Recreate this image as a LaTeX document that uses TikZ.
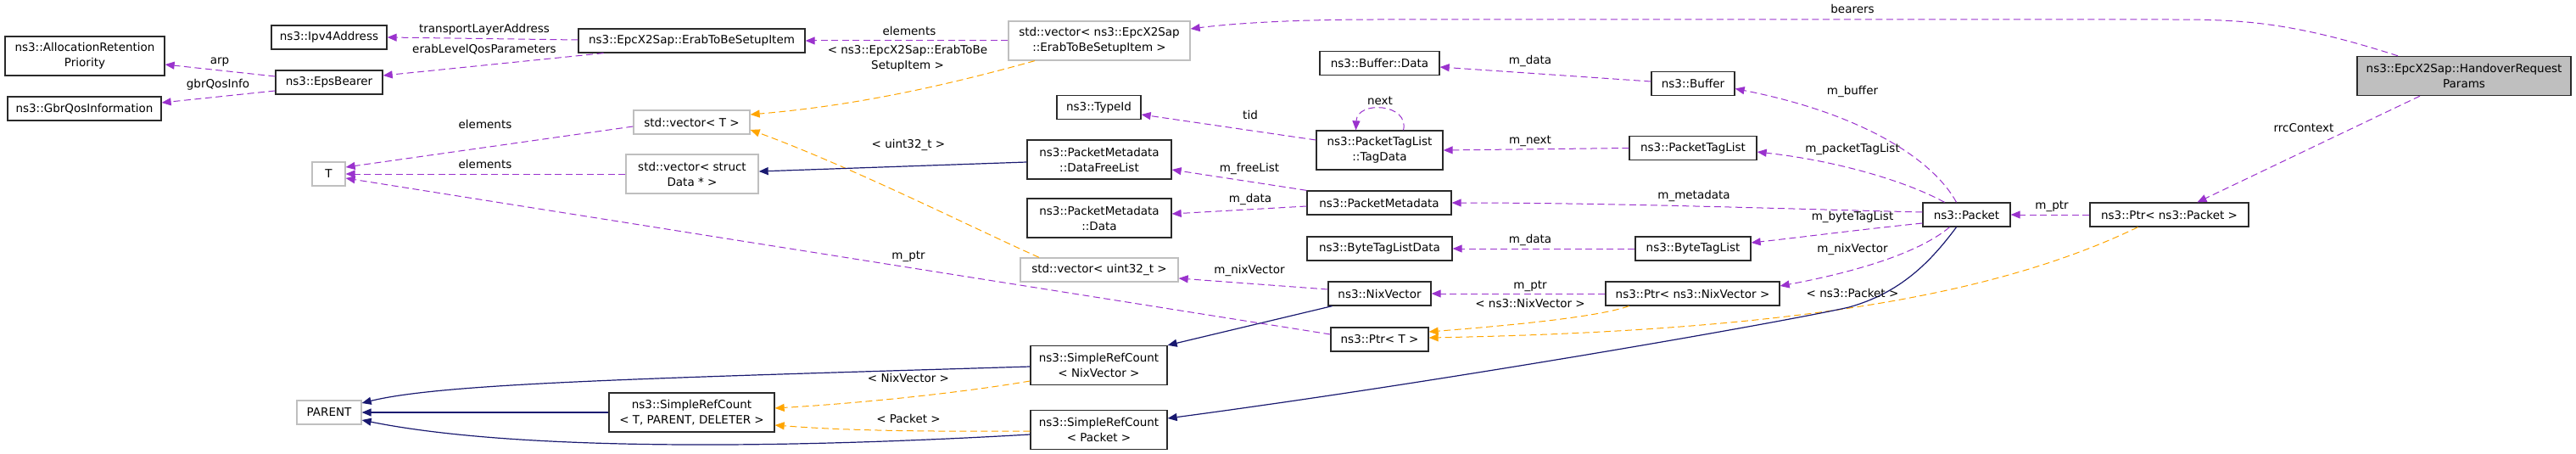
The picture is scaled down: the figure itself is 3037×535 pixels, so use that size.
\documentclass[tikz,border=0pt]{standalone}
\usepackage{fontspec}
\setmainfont{DejaVu Sans}
\usetikzlibrary{arrows.meta}
\definecolor{purp}{HTML}{9A32CD}
\definecolor{orng}{HTML}{FFA500}
\definecolor{navyb}{HTML}{191970}
\definecolor{gborder}{HTML}{BFBFBF}
\definecolor{nborder}{HTML}{2A2A2A}
\definecolor{mainfill}{HTML}{BFBFBF}
\newcommand\dgfont{\fontsize{13.5}{18}\selectfont}
\tikzset{
  cls/.style={draw=nborder, fill=white, line width=1.3pt, inner sep=0pt, align=center, font=\dgfont},
  ext/.style={cls, draw=gborder},
  mainnode/.style={cls, fill=mainfill},
  lbl/.style={inner sep=0pt, font=\dgfont, text height=10pt, text depth=3pt},
  lbltwo/.style={inner sep=0pt, font=\dgfont, align=center},
  mem/.style={draw=purp, line width=1pt, dash pattern=on 8pt off 4.5pt, -{Triangle[length=11pt,width=9pt]}},
  tmpl/.style={draw=orng, line width=1pt, dash pattern=on 8pt off 4.5pt, -{Triangle[length=11pt,width=9pt]}},
  inh/.style={draw=navyb, line width=1.2pt, -{Triangle[length=11pt,width=9pt]}},
}
\begin{document}
\begin{tikzpicture}[x=1pt,y=-1pt]
\useasboundingbox (0,0) rectangle (3037,535);
% nodes
\node[cls, minimum width=188pt, minimum height=46pt] (arp) at (100,66) {ns3::AllocationRetention\\Priority};
\node[cls, minimum width=181pt, minimum height=28pt] (gbr) at (99.5,128) {ns3::GbrQosInformation};
\node[cls, minimum width=136pt, minimum height=28pt] (ipv4) at (388,44) {ns3::Ipv4Address};
\node[cls, minimum width=126pt, minimum height=28pt] (eps) at (388,97) {ns3::EpsBearer};
\node[cls, minimum width=267pt, minimum height=28pt] (erab) at (815.5,48) {ns3::EpcX2Sap::ErabToBeSetupItem};
\node[ext, minimum width=214pt, minimum height=46pt] (verab) at (1296,48) {std::vector< ns3::EpcX2Sap\\::ErabToBeSetupItem >};
\node[ext, minimum width=39pt, minimum height=28pt] (T) at (387.5,205) {T};
\node[ext, minimum width=137pt, minimum height=28pt] (vecT) at (815.5,144) {std::vector< T >};
\node[ext, minimum width=156pt, minimum height=46pt] (vecData) at (816,205) {std::vector< struct\\Data * >};
\node[cls, minimum width=99pt, minimum height=28pt] (typeid) at (1295.5,126.5) {ns3::TypeId};
\node[cls, minimum width=170pt, minimum height=46pt] (freelist) at (1296,188) {ns3::PacketMetadata\\::DataFreeList};
\node[cls, minimum width=170pt, minimum height=46pt] (pmdata) at (1296,257) {ns3::PacketMetadata\\::Data};
\node[ext, minimum width=186pt, minimum height=28pt] (vecu32) at (1296,318) {std::vector< uint32\_t >};
\node[cls, minimum width=161pt, minimum height=46pt] (srcnix) at (1295.5,430.5) {ns3::SimpleRefCount\\< NixVector >};
\node[cls, minimum width=195pt, minimum height=46pt] (srctpd) at (815.5,486) {ns3::SimpleRefCount\\< T, PARENT, DELETER >};
\node[cls, minimum width=161pt, minimum height=46pt] (srcpkt) at (1295.5,506.5) {ns3::SimpleRefCount\\< Packet >};
\node[ext, minimum width=76pt, minimum height=28pt] (PARENT) at (388,486) {PARENT};
\node[cls, minimum width=141pt, minimum height=28pt] (bufdata) at (1626.5,74.5) {ns3::Buffer::Data};
\node[cls, minimum width=149pt, minimum height=46pt] (tagdata) at (1626.5,177) {ns3::PacketTagList\\::TagData};
\node[cls, minimum width=170pt, minimum height=28pt] (pmeta) at (1626,239) {ns3::PacketMetadata};
\node[cls, minimum width=171pt, minimum height=28pt] (btldata) at (1626.5,293) {ns3::ByteTagListData};
\node[cls, minimum width=121pt, minimum height=28pt] (nix) at (1626.5,346) {ns3::NixVector};
\node[cls, minimum width=115pt, minimum height=28pt] (ptrT) at (1626.5,400) {ns3::Ptr< T >};
\node[cls, minimum width=98pt, minimum height=28pt] (buffer) at (1996,98.5) {ns3::Buffer};
\node[cls, minimum width=150pt, minimum height=28pt] (ptl) at (1996,174.5) {ns3::PacketTagList};
\node[cls, minimum width=136pt, minimum height=28pt] (btl) at (1996,293) {ns3::ByteTagList};
\node[cls, minimum width=205pt, minimum height=28pt] (ptrnix) at (1995.5,346) {ns3::Ptr< ns3::NixVector >};
\node[cls, minimum width=103pt, minimum height=28pt] (packet) at (2318.5,253) {ns3::Packet};
\node[cls, minimum width=187pt, minimum height=28pt] (ptrpkt) at (2557.5,253) {ns3::Ptr< ns3::Packet >};
\node[mainnode, minimum width=252pt, minimum height=46pt] (hrp) at (2905,89.5) {ns3::EpcX2Sap::HandoverRequest\\Params};
% edges
\draw[mem] ([xshift=-78pt]hrp.north) .. controls (2700,25) and (2640,23) .. (2560,23) -- (1620,23) .. controls (1520,23) and (1450,28) .. ([yshift=14pt]verab.east);
\draw[mem] ([xshift=-52pt]hrp.south) -- ([xshift=33pt]ptrpkt.north);
\draw[mem] (ptrpkt.west) -- (packet.east);
\draw[mem] ([xshift=-12pt]packet.north) .. controls (2280,190) and (2200,135) .. ([yshift=-6pt]buffer.east);
\draw[mem] ([xshift=-26pt]packet.north) .. controls (2250,215) and (2170,190) .. ([yshift=-4.5pt]ptl.east);
\draw[mem] ([yshift=3pt]packet.west) .. controls (2100,246) and (1900,239) .. (pmeta.east);
\draw[mem] ([yshift=-10pt]packet.west) .. controls (2180,272) and (2120,280) .. ([yshift=7pt]btl.east);
\draw[mem] ([xshift=-20pt]packet.south) .. controls (2260,300) and (2180,322) .. ([yshift=9pt]ptrnix.east);
\draw[mem] (ptrnix.west) -- (nix.east);
\draw[tmpl] ([xshift=-75pt]ptrnix.south) .. controls (1880,375) and (1760,385) .. ([yshift=9pt]ptrT.east);
\draw[tmpl] ([xshift=-37pt]ptrpkt.south) .. controls (2350,350) and (2100,390) .. ([yshift=2pt]ptrT.east);
\draw[inh] ([xshift=-12pt]packet.south) .. controls (2275,310) and (2240,345) .. (2180,362) .. controls (2100,380) and (1700,450) .. ([yshift=13.5pt]srcpkt.east);
\draw[inh] ([xshift=-56pt]nix.south) -- (srcnix.north east);
\draw[mem] ([yshift=5pt]nix.west) -- ([yshift=-10pt]vecu32.east);
\draw[mem] ([yshift=6pt]ptrT.west) -- ([yshift=-5pt]T.east);
\draw[tmpl] ([xshift=-71pt]vecu32.north) .. controls (1150,270) and (1000,195) .. ([yshift=-9pt]vecT.east);
\draw[tmpl] ([xshift=-76pt]verab.south) .. controls (1100,105) and (1000,125) .. ([yshift=9pt]vecT.east);
\draw[mem] (verab.west) -- (erab.east);
\draw[mem] ([yshift=1pt]erab.west) -- (ipv4.east);
\draw[mem] ([xshift=-104pt]erab.south) -- ([yshift=8pt]eps.east);
\draw[mem] ([yshift=7pt]eps.west) -- ([yshift=-10pt]arp.east);
\draw[mem] ([yshift=-10pt]eps.west) -- ([yshift=7pt]gbr.east);
\draw[mem] ([yshift=-5pt]vecT.west) -- ([yshift=8pt]T.east);
\draw[mem] (vecData.west) -- (T.east);
\draw[inh] ([yshift=-3pt]freelist.west) -- ([yshift=3pt]vecData.east);
\draw[mem] (pmeta.north west) -- ([yshift=-12pt]freelist.east);
\draw[mem] ([yshift=-4pt]pmeta.west) -- ([yshift=5pt]pmdata.east);
\draw[mem] ([yshift=12pt]tagdata.west) -- ([yshift=-8.5pt]typeid.east);
\draw[mem] ([xshift=28pt]tagdata.north) .. controls (1662,122) and (1600,118) .. ([xshift=-28pt]tagdata.north);
\draw[mem] (ptl.west) -- (tagdata.east);
\draw[mem] ([yshift=2.5pt]buffer.west) -- ([yshift=-4.5pt]bufdata.east);
\draw[mem] (btl.west) -- (btldata.east);
\draw[inh] ([yshift=-1.5pt]srcnix.west) .. controls (750,446) and (520,452) .. ([yshift=11pt]PARENT.east);
\draw[inh] (srctpd.west) -- (PARENT.east);
\draw[inh] ([yshift=-5.5pt]srcpkt.west) .. controls (900,530) and (600,530) .. ([yshift=-9pt]PARENT.east);
\draw[tmpl] ([yshift=-18.5pt]srcnix.west) .. controls (1120,465) and (1000,476) .. ([yshift=5pt]srctpd.east);
\draw[tmpl] ([yshift=-1.5pt]srcpkt.west) .. controls (1050,509) and (980,506) .. ([yshift=-15pt]srctpd.east);
% labels
\node[lbl] (l1) at (2184,12) {bearers};
\node[lbl] (l2) at (2716,152) {rrcContext};
\node[lbl] (l3) at (2419,243) {m\_ptr};
\node[lbl] (l4) at (2184,108) {m\_buffer};
\node[lbl] (l5) at (2184,176) {m\_packetTagList};
\node[lbl] (l6) at (1997,231) {m\_metadata};
\node[lbl] (l7) at (2184,256) {m\_byteTagList};
\node[lbl] (l8) at (2184,294) {m\_nixVector};
\node[lbl] (l9) at (1804,337) {m\_ptr};
\node[lbl] (l10) at (1804,359) {< ns3::NixVector >};
\node[lbl] (l11) at (2184,347) {< ns3::Packet >};
\node[lbl] (l12) at (1627,120) {next};
\node[lbl] (l13) at (1804,166) {m\_next};
\node[lbl] (l14) at (1804,72) {m\_data};
\node[lbl] (l15) at (1804,283) {m\_data};
\node[lbl] (l16) at (1474,137) {tid};
\node[lbl] (l17) at (1473,199) {m\_freeList};
\node[lbl] (l18) at (1474,235) {m\_data};
\node[lbl] (l19) at (1473,319) {m\_nixVector};
\node[lbl] (l20) at (1071,302) {m\_ptr};
\node[lbl] (l21) at (1071,171) {< uint32\_t >};
\node[lbltwo] (l22) at (1070,69) {< ns3::EpcX2Sap::ErabToBe\\SetupItem >};
\node[lbl] (l23) at (1072,38) {elements};
\node[lbl] (l24) at (571,35) {transportLayerAddress};
\node[lbl] (l25) at (571,59) {erabLevelQosParameters};
\node[lbl] (l26) at (259,72) {arp};
\node[lbl] (l27) at (257,100) {gbrQosInfo};
\node[lbl] (l28) at (572,148) {elements};
\node[lbl] (l29) at (572,195) {elements};
\node[lbl] (l30) at (1071,447) {< NixVector >};
\node[lbl] (l31) at (1071,495) {< Packet >};
\end{tikzpicture}
\end{document}
